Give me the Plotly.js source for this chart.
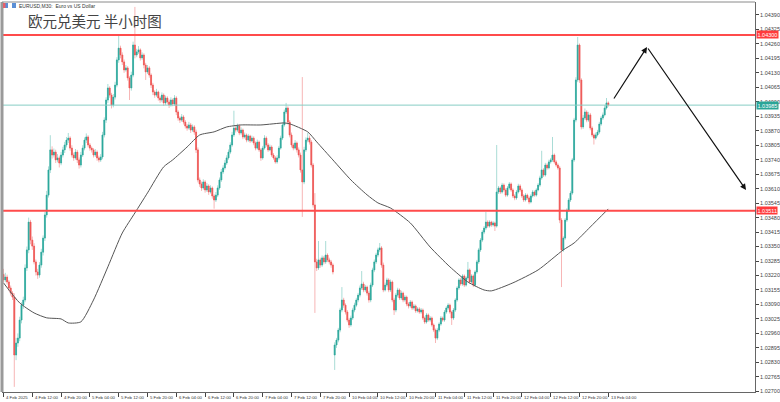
<!DOCTYPE html>
<html>
<head>
<meta charset="utf-8">
<script src="https://cdn.plot.ly/plotly-3.0.1.min.js"></script>
<style>
html,body{margin:0;padding:0;background:#fff;}
#chart{width:780px;height:402px;}
</style>
</head>
<body>
<div id="chart"></div>
<script>
// ---- data (EURUSD M30) ----
const tickBars = [0,16,32,48,64,80,96,112,128,144,160,176,192,208,224,240,256,272,288,304,320,336];
const tickText = ["4 Feb 2025","4 Feb 12:00","4 Feb 20:00","5 Feb 04:00","5 Feb 12:00","5 Feb 20:00","6 Feb 04:00","6 Feb 12:00","6 Feb 20:00","7 Feb 04:00","7 Feb 12:00","7 Feb 20:00","10 Feb 04:00","10 Feb 12:00","10 Feb 20:00","11 Feb 04:00","11 Feb 12:00","11 Feb 20:00","12 Feb 04:00","12 Feb 12:00","12 Feb 20:00","13 Feb 04:00"];

const open = [
1.03225,1.03200,1.03213,1.03191,1.03164,1.03141,1.03123,1.02863,1.02917,1.02939,1.03020,1.03087,1.03110,1.03254,1.03335,1.03460,
1.03379,1.03352,1.03281,1.03236,1.03222,1.03267,1.03325,1.03388,1.03492,1.03581,1.03694,1.03784,1.03761,1.03774,1.03739,1.03748,
1.03725,1.03761,1.03784,1.03806,1.03828,1.03837,1.03792,1.03761,1.03748,1.03774,1.03739,1.03716,1.03761,1.03792,1.03828,1.03842,
1.03806,1.03792,1.03784,1.03761,1.03774,1.03748,1.03739,1.03752,1.03851,1.03918,1.04008,1.04062,1.04030,1.03986,1.04021,1.04075,
1.04188,1.04241,1.04210,1.04179,1.04143,1.04152,1.04107,1.04062,1.04120,1.04255,1.04210,1.04224,1.04233,1.04197,1.04210,1.04165,
1.04134,1.04152,1.04120,1.04075,1.04044,1.04030,1.04044,1.04017,1.04008,1.04030,1.03995,1.04017,1.03999,1.03986,1.04008,1.03990,
1.04017,1.03954,1.03927,1.03918,1.03932,1.03909,1.03891,1.03882,1.03896,1.03873,1.03887,1.03864,1.03784,1.03649,1.03631,1.03613,
1.03640,1.03604,1.03622,1.03595,1.03613,1.03577,1.03559,1.03581,1.03613,1.03649,1.03685,1.03703,1.03725,1.03748,1.03774,1.03806,
1.03851,1.03882,1.03873,1.03891,1.03860,1.03873,1.03842,1.03851,1.03828,1.03846,1.03824,1.03837,1.03815,1.03792,1.03819,1.03784,
1.03748,1.03792,1.03837,1.03806,1.03784,1.03797,1.03761,1.03748,1.03730,1.03748,1.03792,1.03837,1.03896,1.03954,1.03972,1.03909,
1.03851,1.03806,1.03792,1.03815,1.03784,1.03761,1.03694,1.03640,1.03784,1.03828,1.03837,1.03819,1.03716,1.03537,1.03281,1.03254,
1.03290,1.03267,1.03299,1.03281,1.03312,1.03290,1.03281,1.03267,1.02863,1.02908,1.02930,1.02975,1.03065,1.03110,1.03087,1.03056,
1.03020,1.02998,1.03029,1.03065,1.03087,1.03110,1.03132,1.03164,1.03182,1.03155,1.03168,1.03141,1.03110,1.03177,1.03245,1.03281,
1.03312,1.03335,1.03344,1.03267,1.03155,1.03177,1.03200,1.03155,1.03191,1.03110,1.03065,1.03132,1.03155,1.03119,1.03141,1.03110,
1.03123,1.03092,1.03083,1.03101,1.03074,1.03083,1.03061,1.03070,1.03056,1.03065,1.03029,1.03011,1.03043,1.03020,1.03029,1.02998,
1.02975,1.02939,1.02975,1.03002,1.03029,1.03020,1.03056,1.03074,1.03087,1.03056,1.03029,1.03065,1.03110,1.03164,1.03200,1.03182,
1.03218,1.03177,1.03209,1.03245,1.03191,1.03218,1.03177,1.03236,1.03281,1.03335,1.03379,1.03415,1.03433,1.03460,1.03442,1.03460,
1.03447,1.03456,1.03442,1.03595,1.03613,1.03595,1.03626,1.03604,1.03581,1.03613,1.03631,1.03604,1.03577,1.03568,1.03595,1.03622,
1.03604,1.03577,1.03559,1.03581,1.03568,1.03550,1.03577,1.03595,1.03581,1.03604,1.03626,1.03658,1.03694,1.03671,1.03716,1.03703,
1.03730,1.03739,1.03761,1.03730,1.03716,1.03703,1.03469,1.03335,1.03388,1.03469,1.03514,1.03559,1.03590,1.03739,1.03918,1.04098,
1.04255,1.04098,1.03887,1.03927,1.03954,1.03918,1.03941,1.03882,1.03851,1.03837,1.03851,1.03864,1.03900,1.03927,1.03941,1.03972,
1.03995];

const high = [
1.03250,1.03232,1.03224,1.03200,1.03175,1.03150,1.03140,1.02940,1.02960,1.03035,1.03100,1.03125,1.03270,1.03350,1.03480,1.03470,
1.03395,1.03365,1.03292,1.03250,1.03280,1.03340,1.03400,1.03505,1.03600,1.03710,1.03850,1.03800,1.03790,1.03785,1.03765,1.03758,
1.03775,1.03798,1.03820,1.03842,1.03860,1.03845,1.03805,1.03772,1.03788,1.03784,1.03750,1.03775,1.03805,1.03840,1.03858,1.03850,
1.03815,1.03800,1.03792,1.03788,1.03782,1.03758,1.03765,1.03865,1.03930,1.04020,1.04080,1.04070,1.04040,1.04035,1.04090,1.04200,
1.04297,1.04252,1.04222,1.04190,1.04165,1.04160,1.04115,1.04135,1.04270,1.04426,1.04238,1.04250,1.04240,1.04222,1.04218,1.04175,
1.04165,1.04160,1.04128,1.04085,1.04052,1.04058,1.04050,1.04025,1.04042,1.04038,1.04028,1.04025,1.04010,1.04020,1.04015,1.04030,
1.04025,1.03962,1.03935,1.03945,1.03940,1.03918,1.03900,1.03910,1.03905,1.03898,1.03895,1.03875,1.03795,1.03660,1.03642,1.03652,
1.03648,1.03635,1.03630,1.03625,1.03620,1.03585,1.03595,1.03625,1.03660,1.03698,1.03715,1.03738,1.03760,1.03786,1.03818,1.03865,
1.03960,1.03895,1.03902,1.03900,1.03885,1.03880,1.03862,1.03858,1.03856,1.03852,1.03848,1.03845,1.03822,1.03830,1.03826,1.03792,
1.03802,1.03850,1.03845,1.03815,1.03808,1.03805,1.03770,1.03756,1.03760,1.03802,1.03848,1.03908,1.03965,1.03995,1.03980,1.03918,
1.03862,1.03815,1.03828,1.03822,1.03795,1.03772,1.04111,1.03798,1.03840,1.03860,1.03848,1.03828,1.03725,1.03590,1.03295,1.03375,
1.03300,1.03310,1.03308,1.03375,1.03320,1.03300,1.03290,1.03275,1.02920,1.02940,1.02985,1.03075,1.03168,1.03120,1.03095,1.03065,
1.03030,1.03040,1.03075,1.03098,1.03120,1.03142,1.03175,1.03240,1.03192,1.03178,1.03175,1.03150,1.03188,1.03255,1.03292,1.03322,
1.03345,1.03366,1.03352,1.03278,1.03188,1.03210,1.03208,1.03202,1.03198,1.03120,1.03142,1.03165,1.03162,1.03152,1.03148,1.03132,
1.03130,1.03100,1.03110,1.03108,1.03092,1.03090,1.03078,1.03078,1.03074,1.03072,1.03036,1.03052,1.03050,1.03038,1.03036,1.03005,
1.02982,1.02985,1.03010,1.03038,1.03036,1.03065,1.03082,1.03096,1.03094,1.03062,1.03074,1.03118,1.03172,1.03208,1.03210,1.03226,
1.03225,1.03216,1.03281,1.03252,1.03226,1.03225,1.03244,1.03290,1.03344,1.03388,1.03424,1.03442,1.03505,1.03468,1.03468,1.03466,
1.03464,1.03462,1.03806,1.03622,1.03620,1.03636,1.03634,1.03612,1.03622,1.03640,1.03638,1.03612,1.03585,1.03604,1.03632,1.03630,
1.03612,1.03585,1.03590,1.03588,1.03575,1.03585,1.03604,1.03602,1.03612,1.03635,1.03668,1.03780,1.03702,1.03726,1.03724,1.03740,
1.03748,1.03842,1.03768,1.03738,1.03724,1.03712,1.03478,1.03396,1.03478,1.03522,1.03568,1.03600,1.03748,1.03928,1.04110,1.04291,
1.04262,1.04106,1.03940,1.03970,1.03962,1.03955,1.03950,1.03890,1.03858,1.03862,1.03874,1.03910,1.03936,1.03952,1.03985,1.04017,
1.04002];

const low = [
1.03188,1.03190,1.03180,1.03150,1.03130,1.03110,1.02720,1.02840,1.02900,1.02925,1.03005,1.03070,1.03100,1.03240,1.03320,1.03360,
1.03335,1.03270,1.03220,1.03205,1.03210,1.03255,1.03310,1.03375,1.03480,1.03570,1.03680,1.03745,1.03750,1.03725,1.03728,1.03705,
1.03715,1.03750,1.03770,1.03795,1.03815,1.03780,1.03750,1.03735,1.03740,1.03725,1.03700,1.03705,1.03752,1.03782,1.03815,1.03795,
1.03780,1.03772,1.03750,1.03752,1.03735,1.03728,1.03730,1.03742,1.03840,1.03905,1.03995,1.04018,1.03970,1.03975,1.04010,1.04065,
1.04175,1.04195,1.04165,1.04130,1.04135,1.04095,1.04008,1.04050,1.04110,1.04195,1.04200,1.04215,1.04185,1.04188,1.04150,1.04098,
1.04125,1.04108,1.04062,1.04030,1.04018,1.04022,1.04005,1.03995,1.03998,1.03982,1.03985,1.03988,1.03972,1.03978,1.03980,1.03982,
1.03940,1.03915,1.03905,1.03910,1.03898,1.03880,1.03870,1.03875,1.03860,1.03865,1.03852,1.03770,1.03638,1.03618,1.03600,1.03605,
1.03592,1.03595,1.03582,1.03588,1.03565,1.03520,1.03550,1.03572,1.03605,1.03640,1.03676,1.03695,1.03716,1.03740,1.03765,1.03798,
1.03842,1.03862,1.03865,1.03850,1.03852,1.03832,1.03835,1.03818,1.03820,1.03815,1.03818,1.03805,1.03782,1.03785,1.03775,1.03735,
1.03740,1.03785,1.03798,1.03775,1.03778,1.03752,1.03740,1.03722,1.03722,1.03740,1.03785,1.03828,1.03888,1.03945,1.03898,1.03840,
1.03795,1.03782,1.03785,1.03772,1.03750,1.03682,1.03483,1.03630,1.03775,1.03818,1.03808,1.03705,1.03525,1.03052,1.03240,1.03245,
1.03255,1.03258,1.03270,1.03272,1.03280,1.03270,1.03255,1.03225,1.02796,1.02895,1.02920,1.02965,1.03055,1.03075,1.03045,1.03010,
1.02985,1.02990,1.03020,1.03055,1.03078,1.03100,1.03122,1.03155,1.03145,1.03146,1.03130,1.03098,1.03100,1.03168,1.03235,1.03272,
1.03302,1.03325,1.03255,1.03145,1.03148,1.03168,1.03145,1.03146,1.03100,1.03043,1.03055,1.03122,1.03110,1.03110,1.03100,1.03102,
1.03082,1.03072,1.03075,1.03065,1.03066,1.03052,1.03054,1.03048,1.03048,1.03020,1.03002,1.03004,1.03012,1.03012,1.02990,1.02966,
1.02917,1.02930,1.02966,1.02994,1.03012,1.03012,1.03048,1.03066,1.03048,1.02998,1.03020,1.03056,1.03102,1.03155,1.03174,1.03174,
1.03168,1.03170,1.03200,1.03182,1.03184,1.03168,1.03170,1.03228,1.03272,1.03326,1.03370,1.03406,1.03424,1.03434,1.03435,1.03438,
1.03440,1.03420,1.03435,1.03586,1.03586,1.03588,1.03596,1.03572,1.03574,1.03605,1.03596,1.03568,1.03558,1.03560,1.03588,1.03596,
1.03568,1.03550,1.03552,1.03560,1.03540,1.03544,1.03570,1.03574,1.03574,1.03598,1.03618,1.03650,1.03662,1.03664,1.03695,1.03696,
1.03722,1.03730,1.03722,1.03708,1.03695,1.03455,1.03168,1.03326,1.03380,1.03460,1.03505,1.03550,1.03582,1.03730,1.03908,1.04088,
1.04085,1.03876,1.03878,1.03918,1.03908,1.03910,1.03872,1.03842,1.03808,1.03830,1.03844,1.03856,1.03892,1.03918,1.03934,1.03965,
1.03978];

const close = [
1.03200,1.03213,1.03191,1.03164,1.03141,1.03123,1.02863,1.02917,1.02939,1.03020,1.03087,1.03110,1.03254,1.03335,1.03460,1.03379,
1.03352,1.03281,1.03236,1.03222,1.03267,1.03325,1.03388,1.03492,1.03581,1.03694,1.03784,1.03761,1.03774,1.03739,1.03748,1.03725,
1.03761,1.03784,1.03806,1.03828,1.03837,1.03792,1.03761,1.03748,1.03774,1.03739,1.03716,1.03761,1.03792,1.03828,1.03842,1.03806,
1.03792,1.03784,1.03761,1.03774,1.03748,1.03739,1.03752,1.03851,1.03918,1.04008,1.04062,1.04030,1.03986,1.04021,1.04075,1.04188,
1.04241,1.04210,1.04179,1.04143,1.04152,1.04107,1.04062,1.04120,1.04255,1.04210,1.04224,1.04233,1.04197,1.04210,1.04165,1.04134,
1.04152,1.04120,1.04075,1.04044,1.04030,1.04044,1.04017,1.04008,1.04030,1.03995,1.04017,1.03999,1.03986,1.04008,1.03990,1.04017,
1.03954,1.03927,1.03918,1.03932,1.03909,1.03891,1.03882,1.03896,1.03873,1.03887,1.03864,1.03784,1.03649,1.03631,1.03613,1.03640,
1.03604,1.03622,1.03595,1.03613,1.03577,1.03559,1.03581,1.03613,1.03649,1.03685,1.03703,1.03725,1.03748,1.03774,1.03806,1.03851,
1.03882,1.03873,1.03891,1.03860,1.03873,1.03842,1.03851,1.03828,1.03846,1.03824,1.03837,1.03815,1.03792,1.03819,1.03784,1.03748,
1.03792,1.03837,1.03806,1.03784,1.03797,1.03761,1.03748,1.03730,1.03748,1.03792,1.03837,1.03896,1.03954,1.03972,1.03909,1.03851,
1.03806,1.03792,1.03815,1.03784,1.03761,1.03694,1.03640,1.03784,1.03828,1.03837,1.03819,1.03716,1.03537,1.03281,1.03254,1.03290,
1.03267,1.03299,1.03281,1.03312,1.03290,1.03281,1.03267,1.03236,1.02908,1.02930,1.02975,1.03065,1.03110,1.03087,1.03056,1.03020,
1.02998,1.03029,1.03065,1.03087,1.03110,1.03132,1.03164,1.03182,1.03155,1.03168,1.03141,1.03110,1.03177,1.03245,1.03281,1.03312,
1.03335,1.03344,1.03267,1.03155,1.03177,1.03200,1.03155,1.03191,1.03110,1.03065,1.03132,1.03155,1.03119,1.03141,1.03110,1.03123,
1.03092,1.03083,1.03101,1.03074,1.03083,1.03061,1.03070,1.03056,1.03065,1.03029,1.03011,1.03043,1.03020,1.03029,1.02998,1.02975,
1.02939,1.02975,1.03002,1.03029,1.03020,1.03056,1.03074,1.03087,1.03056,1.03029,1.03065,1.03110,1.03164,1.03200,1.03182,1.03218,
1.03177,1.03209,1.03245,1.03191,1.03218,1.03177,1.03236,1.03281,1.03335,1.03379,1.03415,1.03433,1.03460,1.03442,1.03460,1.03447,
1.03456,1.03442,1.03595,1.03613,1.03595,1.03626,1.03604,1.03581,1.03613,1.03631,1.03604,1.03577,1.03568,1.03595,1.03622,1.03604,
1.03577,1.03559,1.03581,1.03568,1.03550,1.03577,1.03595,1.03581,1.03604,1.03626,1.03658,1.03694,1.03671,1.03716,1.03703,1.03730,
1.03739,1.03761,1.03730,1.03716,1.03703,1.03469,1.03335,1.03388,1.03469,1.03514,1.03559,1.03590,1.03739,1.03918,1.04098,1.04255,
1.04098,1.03887,1.03927,1.03954,1.03918,1.03941,1.03882,1.03851,1.03837,1.03851,1.03864,1.03900,1.03927,1.03941,1.03972,1.03995,
1.03986];

// moving average (read at sample bars)
const maBars = [0,9,17,24,32,36,43,50,58,66,73,80,89,94,102,109,117,124,132,143,156,159,169,174,183,193,202,208,215,226,237,248,258,267,271,283,297,311,317,326,336];
const maVals = [1.03187,1.03097,1.03052,1.03030,1.03025,1.03007,1.03012,1.03110,1.03259,1.03411,1.03501,1.03591,1.03708,1.03739,1.03797,1.03851,1.03865,1.03887,1.03896,1.03896,1.03905,1.03901,1.03865,1.03820,1.03739,1.03649,1.03582,1.03546,1.03523,1.03456,1.03348,1.03259,1.03191,1.03155,1.03151,1.03187,1.03245,1.03335,1.03366,1.03438,1.03519];

// horizontal levels
const resistance = 1.04300;
const support = 1.03511;
const bid = 1.03985;

// projection arrow (bar, price)
const arrowPath = [[338.6, 1.04008],[357.5, 1.04246],[412.5, 1.03604]];

// ---- build ----
const xs = close.map((_, i) => i);
const bodyHigh = close.map((c, i) => Math.max(c, open[i]));
const bodyLow = close.map((c, i) => Math.min(c, open[i]));

const UP = '#26a69a', DN = '#ef5350', UPL = '#a9dcd6', DNL = '#f7b6b6';

const wicks = {
  type: 'candlestick', x: xs, open: open, high: high, low: low, close: close,
  increasing: {line: {color: UPL, width: 1}, fillcolor: UPL},
  decreasing: {line: {color: DNL, width: 1}, fillcolor: DNL},
  whiskerwidth: 0, hoverinfo: 'skip', showlegend: false
};
const bodies = {
  type: 'candlestick', x: xs, open: open, high: bodyHigh, low: bodyLow, close: close,
  increasing: {line: {color: UP, width: 0.6}, fillcolor: UP},
  decreasing: {line: {color: DN, width: 0.6}, fillcolor: DN},
  whiskerwidth: 0, hoverinfo: 'skip', showlegend: false
};
const ma = {
  type: 'scatter', mode: 'lines', x: maBars, y: maVals,
  line: {color: '#555555', width: 1, shape: 'spline', smoothing: 0.6},
  hoverinfo: 'skip', showlegend: false
};

function pxX(px){ return (px - 2) / 753; }
function pxY(py){ return 1 - (py - 2) / 390; }

const shapes = [
  {type:'line', xref:'paper', yref:'y', x0:0, x1:1, y0:bid, y1:bid, line:{color:'#86cdc5', width:1}},
  {type:'line', xref:'paper', yref:'y', x0:0, x1:1, y0:resistance, y1:resistance, line:{color:'#ff4b4b', width:2}},
  {type:'line', xref:'paper', yref:'y', x0:0, x1:1, y0:support, y1:support, line:{color:'#ff4b4b', width:2}},
  {type:'line', xref:'paper', yref:'paper', x0:0, x1:0, y0:0, y1:1, line:{color:'#9a9a9a', width:3}},
  {type:'line', xref:'paper', yref:'paper', x0:0, x1:1, y0:1, y1:1, line:{color:'#8a8a8a', width:1}},
  {type:'rect', xref:'paper', yref:'paper', x0:pxX(3), x1:pxX(8), y0:pxY(8), y1:pxY(3), fillcolor:'#e8606a', line:{width:0}},
  {type:'rect', xref:'paper', yref:'paper', x0:pxX(5.5), x1:pxX(8), y0:pxY(8), y1:pxY(3), fillcolor:'#5b8fd6', line:{width:0}},
  {type:'rect', xref:'paper', yref:'paper', x0:pxX(12), x1:pxX(16), y0:pxY(8), y1:pxY(3), fillcolor:'#5b8fd6', line:{width:0}}
];

function priceTag(y, color){
  return {xref:'paper', yref:'y', x:1, y:y, xanchor:'left', yanchor:'middle', xshift:1,
    text:y.toFixed(5), showarrow:false, bgcolor:color, borderpad:0.5,
    font:{family:'Liberation Sans, Arial, sans-serif', size:5.5, color:'#ffffff'}};
}

// time labels drawn beside their tick, left-aligned (as in the terminal)
const timeLabels = tickBars.map((b, k) => ({
  xref:'x', yref:'paper', x:b, y:0, xanchor:'left', yanchor:'top', xshift:0.5, yshift:-0.5,
  text:tickText[k], showarrow:false,
  font:{family:'Liberation Sans, Arial, sans-serif', size:4.3, color:'#333'}
}));

const annotations = [
  {xref:'paper', yref:'paper', x:pxX(17), y:pxY(6), xanchor:'left', yanchor:'middle', showarrow:false,
   text:'EURUSD,M30:  Euro vs US Dollar', font:{family:'Liberation Sans, Arial, sans-serif', size:5, color:'#333'}},
  {xref:'paper', yref:'paper', x:pxX(26), y:pxY(20.5), xanchor:'left', yanchor:'middle', showarrow:false,
   text:'欧元兑美元 半小时图', font:{family:'Noto Sans CJK SC, sans-serif', size:14.5, color:'#444'}},
  priceTag(resistance, '#ff3b3b'),
  priceTag(support, '#ff3b3b'),
  priceTag(bid, '#2aa597'),
  {xref:'x', yref:'y', axref:'x', ayref:'y', x:arrowPath[1][0], y:arrowPath[1][1], ax:arrowPath[0][0], ay:arrowPath[0][1],
   showarrow:true, arrowhead:2, arrowsize:1, arrowwidth:1.2, arrowcolor:'#111', text:''},
  {xref:'x', yref:'y', axref:'x', ayref:'y', x:arrowPath[2][0], y:arrowPath[2][1], ax:arrowPath[1][0], ay:arrowPath[1][1],
   showarrow:true, arrowhead:2, arrowsize:1, arrowwidth:1.2, arrowcolor:'#111', text:''}
].concat(timeLabels);

const layout = {
  width: 780, height: 402,
  margin: {l: 2, r: 25, t: 2, b: 10, pad: 0},
  paper_bgcolor: '#ffffff', plot_bgcolor: '#ffffff',
  showlegend: false,
  xaxis: {
    range: [-0.83, 417.5], rangeslider: {visible: false},
    tickmode: 'array', tickvals: tickBars, showticklabels: false,
    ticks: 'outside', ticklen: 4, tickcolor: '#444',
    showgrid: false, zeroline: false, showline: true, linecolor: '#666', linewidth: 1,
    fixedrange: true
  },
  yaxis: {
    side: 'right', range: [1.02697, 1.04448],
    tick0: 1.04390, dtick: 0.00065, tickformat: '.5f',
    ticks: 'outside', ticklen: 3, tickcolor: '#444',
    tickfont: {family: 'Liberation Sans, Arial, sans-serif', size: 5.5, color: '#444'},
    showgrid: false, zeroline: false, showline: true, linecolor: '#666', linewidth: 1,
    fixedrange: true
  },
  shapes: shapes,
  annotations: annotations
};

Plotly.newPlot('chart', [wicks, bodies, ma], layout, {displayModeBar: false, staticPlot: true});
</script>
</body>
</html>
